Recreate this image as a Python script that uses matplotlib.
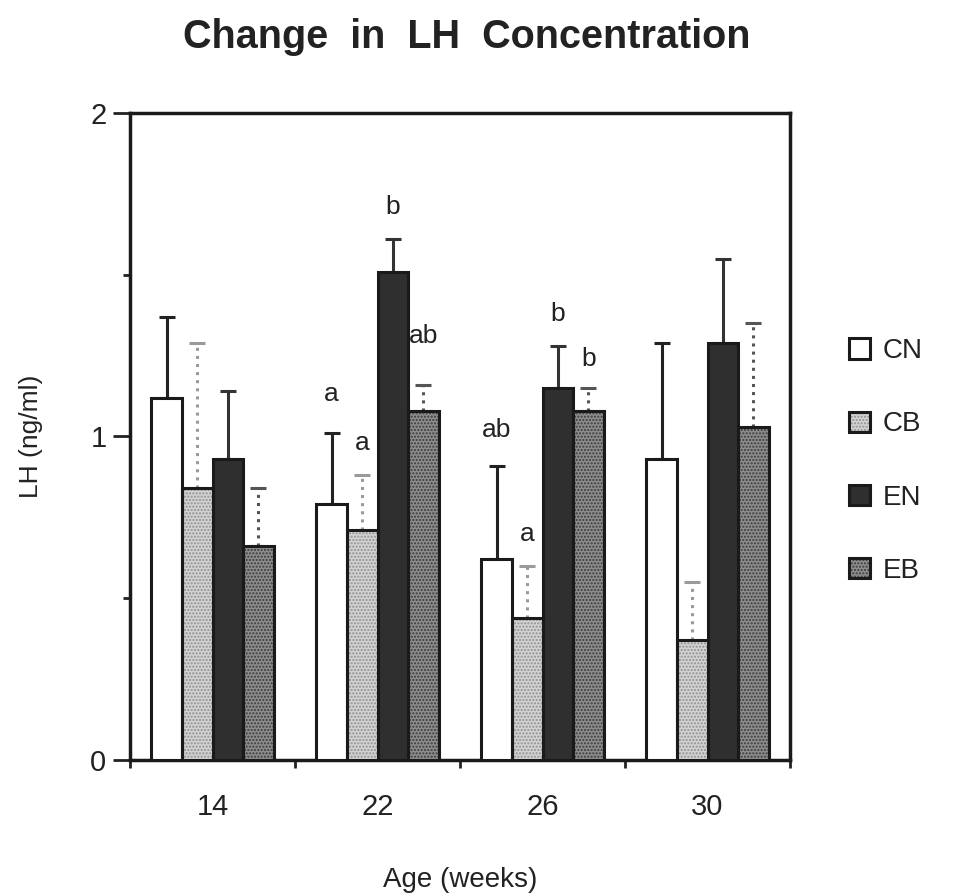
import matplotlib
matplotlib.use("Agg")
import matplotlib.pyplot as plt
import numpy as np
from matplotlib.ticker import FixedLocator, NullFormatter

plt.rcParams['font.family'] = ['Liberation Sans', 'DejaVu Sans']

# ---- data ----
ages = ["14", "22", "26", "30"]
series = ["CN", "CB", "EN", "EB"]
cn_mean = [1.12, 0.79, 0.62, 0.93]
cn_top = [1.37, 1.01, 0.91, 1.29]
cb_mean = [0.84, 0.71, 0.44, 0.37]
cb_top = [1.29, 0.88, 0.60, 0.55]
en_mean = [0.93, 1.51, 1.15, 1.29]
en_top = [1.14, 1.61, 1.28, 1.55]
eb_mean = [0.66, 1.08, 1.08, 1.03]
eb_top = [0.84, 1.16, 1.15, 1.35]

# significance letters: (age index, series index, letter, y)
sig_group = [1, 1, 1, 1, 2, 2, 2, 2]
sig_series = [0, 1, 2, 3, 0, 1, 2, 3]
sig_text = ["a", "a", "b", "ab", "ab", "a", "b", "b"]
sig_y = [1.13, 0.98, 1.71, 1.31, 1.02, 0.70, 1.38, 1.24]

means = [cn_mean, cb_mean, en_mean, eb_mean]
tops = [cn_top, cb_top, en_top, eb_top]

face = ["white", "#d2d2d2", "#2f2f2f", "#8c8c8c"]
hatchc = [None, "#8f8f8f", None, "#3c3c3c"]
errc = ["#222222", "#9a9a9a", "#333333", "#555555"]
errls = ["-", ":", "-", ":"]

fig = plt.figure(figsize=(9.62, 8.94), dpi=100)
ax = fig.add_axes([130/962, 134/894, 660/962, 647/894])

x = np.arange(len(ages))
w = 0.185
offsets = (np.arange(4) - 1.5) * w

handles = []
for i in range(4):
    xs = x + offsets[i]
    m = np.array(means[i])
    t = np.array(tops[i])
    err = t - m
    eb = ax.errorbar(xs, m, yerr=[np.zeros_like(err), err], fmt='none',
                     ecolor=errc[i], elinewidth=2.2, capsize=5.5, capthick=2.2, zorder=2)
    eb[2][0].set_linestyle(errls[i])
    b1 = ax.bar(xs, m, width=w, color=face[i], linewidth=0, zorder=3)
    parts = [b1.patches[0]]
    if hatchc[i] is not None:
        b2 = ax.bar(xs, m, width=w, fill=False, hatch='.....', edgecolor=hatchc[i],
                    linewidth=0, zorder=4)
        parts.append(b2.patches[0])
    b3 = ax.bar(xs, m, width=w, fill=False, edgecolor='#1a1a1a', linewidth=2.2, zorder=5)
    parts.append(b3.patches[0])
    handles.append(tuple(parts))

for g, s, txt, yy in zip(sig_group, sig_series, sig_text, sig_y):
    ax.text(x[g] + offsets[s], yy, txt, ha='center', va='center', fontsize=19, color='#222222')

ax.set_xlim(-0.5, 3.5)
ax.set_ylim(0, 2)

ax.xaxis.set_major_locator(FixedLocator([-0.5, 0.5, 1.5, 2.5, 3.5]))
ax.xaxis.set_major_formatter(NullFormatter())
ax.xaxis.set_minor_locator(FixedLocator(x))
ax.set_xticklabels(ages, minor=True)
ax.tick_params(axis='x', which='major', direction='out', length=6, width=2, color='#222222')
ax.tick_params(axis='x', which='minor', length=0, labelsize=21, pad=24, labelcolor='#222222')

ax.yaxis.set_major_locator(FixedLocator([0, 1, 2]))
ax.yaxis.set_minor_locator(FixedLocator([0.5, 1.5]))
ax.set_yticklabels(["0", "1", "2"])
ax.tick_params(axis='y', which='major', direction='out', length=12, width=2, labelsize=21,
               pad=5, color='#222222', labelcolor='#222222')
ax.tick_params(axis='y', which='minor', direction='out', length=5, width=2, color='#222222')

for sp in ax.spines.values():
    sp.set_linewidth(2.5)
    sp.set_color('#1a1a1a')

ax.set_xlabel("Age (weeks)", fontsize=20, labelpad=33, color='#222222')
ax.set_ylabel("LH (ng/ml)", fontsize=19, labelpad=34, color='#222222')

fig.text(467/962, 1 - 37/894, "Change  in  LH  Concentration", ha='center', va='center',
         fontsize=28.5, fontweight='bold', color='#222222')

leg = fig.legend(handles, series, loc='center left', bbox_to_anchor=(824/962, (894 - 461)/894),
                 frameon=False, fontsize=20, handlelength=0.75, handleheight=0.75,
                 labelspacing=1.7, handletextpad=0.45, labelcolor='#222222')

fig.savefig("out.png", dpi=100)
